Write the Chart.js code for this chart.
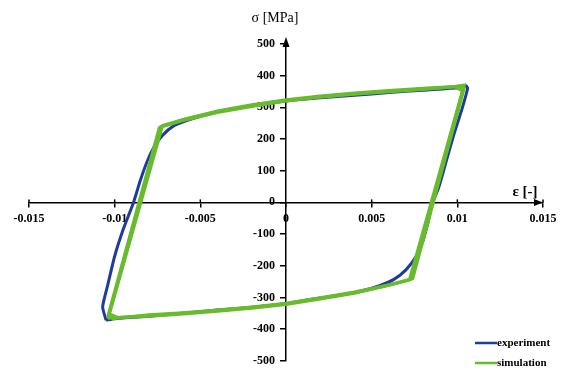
<!DOCTYPE html>
<html>
<head>
<meta charset="utf-8">
<script src="https://cdn.jsdelivr.net/npm/chart.js@4/dist/chart.umd.min.js"></script>
<style>
  html, body { margin: 0; padding: 0; background: #ffffff; }
  #wrap { width: 562px; height: 374px; position: relative; }
</style>
</head>
<body>
<div id="wrap"><canvas id="c" width="562" height="374"></canvas></div>
<script>
// ---- data ----
const xTickStep = 0.005;
const yTickStep = 100;
const xTitle = 'ε [-]';
const yTitle = 'σ [MPa]';
const seriesNames = ['experiment', 'simulation'];

const expStrain = [-0.0105, -0.0107, -0.0104, -0.0100, -0.0095, -0.0089, -0.0085, -0.0081, -0.0077, -0.0072, -0.0066, -0.0058, -0.0048, -0.0035, -0.0020, 0, 0.0020, 0.0040, 0.0060, 0.0080, 0.0100, 0.0105,
                   0.0106, 0.0103, 0.0098, 0.0093, 0.0089, 0.00856, 0.0083, 0.0080, 0.0076, 0.0070, 0.0063, 0.0055, 0.0045, 0.0030, 0.0015, 0, -0.0020, -0.0040, -0.0060, -0.0080, -0.0100, -0.0105];
const expStress = [-372, -330, -260, -170, -85, 0, 70, 130, 175, 212, 240, 258, 275, 292, 305, 320, 330, 338, 347, 354, 362, 368,
                   360, 300, 215, 120, 45, 0, -60, -120, -170, -213, -243, -262, -278, -294, -306, -320, -331, -340, -350, -359, -367, -372];

const simStrainA = [-0.0104, -0.0073, -0.0060, -0.0040, -0.0020, 0, 0.0020, 0.0040, 0.0060, 0.0080, 0.0095, 0.0104,
                    0.0073, 0.0060, 0.0040, 0.0020, 0, -0.0020, -0.0040, -0.0060, -0.0080, -0.0095, -0.0104];
const simStressA = [-366, 240, 262, 287, 306, 322, 334, 343, 351, 358, 363, 370,
                    -243, -262, -285, -303, -320, -332, -342, -350, -357, -362, -366];

const simStrainB = [-0.0103, -0.0072, -0.0058, -0.0040, -0.0020, 0, 0.0020, 0.0040, 0.0060, 0.0080, 0.0098, 0.0103,
                    0.0072, 0.0058, 0.0040, 0.0020, 0, -0.0020, -0.0040, -0.0060, -0.0080, -0.0098, -0.0103];
const simStressB = [-352, 243, 264, 289, 308, 324, 336, 345, 353, 360, 366, 352,
                    -245, -264, -287, -305, -322, -334, -344, -352, -359, -364, -352];

const simStrainC = [-0.0104, -0.0074, -0.0061, -0.0040, -0.0020, 0, 0.0020, 0.0040, 0.0060, 0.0080, 0.0101, 0.0104,
                    0.0074, 0.0061, 0.0040, 0.0020, 0, -0.0020, -0.0040, -0.0060, -0.0080, -0.0101, -0.0104];
const simStressC = [-360, 236, 257, 284, 303, 320, 332, 341, 349, 356, 367, 360,
                    -240, -259, -283, -301, -318, -330, -340, -348, -355, -367, -360];

// ---- helpers ----
const BLUE = '#1f3c98';
const GREEN = '#68bb2d';
const SERIF = '"Liberation Serif", "Times New Roman", serif';
const toPts = (xs, ys) => xs.map((x, i) => ({ x: x, y: ys[i] }));

const simDataset = (xs, ys) => ({
  label: seriesNames[1],
  data: toPts(xs, ys),
  showLine: true,
  borderColor: GREEN,
  backgroundColor: GREEN,
  borderWidth: 3,
  pointRadius: 0,
  tension: 0,
  order: 1
});

const decorPlugin = {
  id: 'decor',
  afterDraw(chart) {
    const ctx = chart.ctx;
    const xs = chart.scales.x, ys = chart.scales.y;
    const x0 = xs.getPixelForValue(0), y0 = ys.getPixelForValue(0);
    const yTop = ys.getPixelForValue(ys.max);
    const xRight = xs.getPixelForValue(xs.max);
    ctx.save();
    ctx.fillStyle = '#000';
    // y arrow
    ctx.beginPath();
    ctx.moveTo(x0, yTop - 7);
    ctx.lineTo(x0 - 3.5, yTop + 3);
    ctx.lineTo(x0 + 3.5, yTop + 3);
    ctx.closePath();
    ctx.fill();
    // x arrow
    ctx.beginPath();
    ctx.moveTo(xRight, y0);
    ctx.lineTo(xRight - 9, y0 - 3.5);
    ctx.lineTo(xRight - 9, y0 + 3.5);
    ctx.closePath();
    ctx.fill();
    // cross part of x ticks (above the axis)
    ctx.strokeStyle = '#000';
    ctx.lineWidth = 1.5;
    xs.ticks.forEach(t => {
      if (Math.abs(t.value) < 1e-9) return;
      const px = xs.getPixelForValue(t.value);
      ctx.beginPath();
      ctx.moveTo(px, y0 - 3);
      ctx.lineTo(px, y0);
      ctx.stroke();
    });
    // axis titles
    ctx.textBaseline = 'middle';
    ctx.textAlign = 'center';
    ctx.font = '14px ' + SERIF;
    ctx.fillText(yTitle, x0 - 11, 18);
    ctx.font = 'bold 15px ' + SERIF;
    ctx.fillText(xTitle, 525, 192);
    // legend
    const items = [[seriesNames[0], BLUE, 343], [seriesNames[1], GREEN, 363]];
    ctx.font = 'bold 11px ' + SERIF;
    ctx.textAlign = 'left';
    items.forEach(([name, col, y]) => {
      ctx.strokeStyle = col;
      ctx.lineWidth = 2.5;
      ctx.beginPath();
      ctx.moveTo(475, y);
      ctx.lineTo(497, y);
      ctx.stroke();
      ctx.fillStyle = '#000';
      ctx.fillText(name, 497, y);
    });
    ctx.restore();
  }
};

new Chart(document.getElementById('c'), {
  type: 'scatter',
  data: {
    datasets: [
      simDataset(simStrainA, simStressA),
      simDataset(simStrainB, simStressB),
      simDataset(simStrainC, simStressC),
      {
        label: seriesNames[0],
        data: toPts(expStrain, expStress),
        showLine: true,
        borderColor: BLUE,
        backgroundColor: BLUE,
        borderWidth: 3,
        pointRadius: 0,
        tension: 0.2,
        order: 2
      }
    ]
  },
  options: {
    responsive: false,
    animation: false,
    layout: { padding: { left: 29, right: 19, top: 44, bottom: 7 } },
    plugins: { legend: { display: false }, tooltip: { enabled: false } },
    scales: {
      x: {
        type: 'linear',
        position: { y: 0 },
        min: -0.015,
        max: 0.015,
        ticks: {
          stepSize: xTickStep,
          autoSkip: false,
          maxRotation: 0,
          color: '#000',
          padding: 5,
          font: { family: SERIF, size: 12, weight: 'bold' },
          callback: v => parseFloat(Number(v).toFixed(4)).toString()
        },
        grid: { display: true, drawOnChartArea: false, drawTicks: true, tickLength: 4, color: '#000', lineWidth: 1.5 },
        border: { display: true, color: '#000', width: 1.5 }
      },
      y: {
        type: 'linear',
        position: 'center',
        min: -500,
        max: 500,
        ticks: {
          stepSize: yTickStep,
          autoSkip: false,
          color: '#000',
          padding: 6,
          font: { family: SERIF, size: 12, weight: 'bold' },
          callback: v => Math.round(v).toString()
        },
        grid: { display: true, drawOnChartArea: false, drawTicks: true, tickLength: 5, color: '#000', lineWidth: 1.5 },
        border: { display: true, color: '#000', width: 1.5 }
      }
    }
  },
  plugins: [decorPlugin]
});
</script>
</body>
</html>
